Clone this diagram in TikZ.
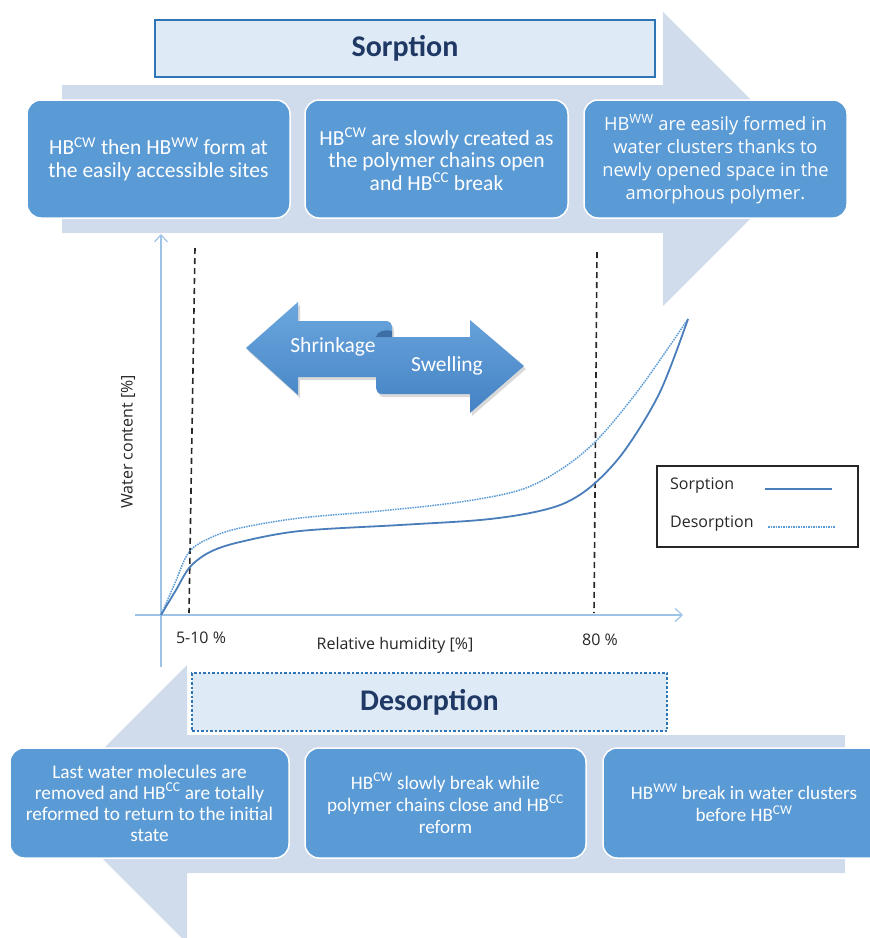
\documentclass[tikz,border=0pt]{standalone}
\usepackage{fontspec}
\setmainfont{Carlito}
\newfontfamily\chartfont{Open Sans}
\usepackage{tikz}
\usetikzlibrary{arrows.meta, shadows}

\definecolor{bandblue}{HTML}{D0DCEC}
\definecolor{boxblue}{HTML}{5B9BD5}
\definecolor{titlefill}{HTML}{DEEBF7}
\definecolor{titleline}{HTML}{2E75B6}
\definecolor{titletext}{HTML}{1F3864}
\definecolor{axisblue}{HTML}{9DC3E6}
\definecolor{curveblue}{HTML}{4A7EBB}
\definecolor{dotblue}{HTML}{5B9BD5}
\definecolor{charttext}{HTML}{262626}
\definecolor{arrowtop}{HTML}{6BA7DE}
\definecolor{arrowbottom}{HTML}{4482C4}
\definecolor{arrowfold}{HTML}{3D6FA6}

\begin{document}
\begin{tikzpicture}[x=1pt, y=-1pt]
    % Styles
    \tikzstyle{stage} = [rectangle, rounded corners=14pt, fill=boxblue, draw=white, line width=1.5pt, align=center, text=white, inner sep=0pt, font=\fontsize{21.5}{22.5}\selectfont]
    \tikzstyle{phase} = [rectangle, fill=titlefill, minimum height=57pt, text=titletext, font=\fontsize{30}{34}\selectfont\bfseries]
    \tikzstyle{band} = [fill=bandblue, draw=none]
    \tikzstyle{chartaxis} = [draw=axisblue, line width=1.2pt, -{Straight Barb[length=7pt, width=13pt]}]
    \tikzstyle{limit} = [draw=black!85, line width=1.6pt, dash pattern=on 6pt off 4pt]
    \tikzstyle{chart} = [text=charttext, inner sep=0pt, font=\chartfont\fontsize{16}{19}\selectfont]
    \tikzstyle{sorp} = [draw=curveblue, line width=1.8pt]
    \tikzstyle{desorp} = [draw=dotblue, line width=1.5pt, dash pattern=on 1.5pt off 1pt]
    \tikzstyle{swell} = [text=white, font=\fontsize{21.5}{24}\selectfont]

    \useasboundingbox (0,0) rectangle (870,938);

    % Big arrows
    \fill[band] (62,85) -- (663,85) -- (663,12) -- (810,159) -- (663,306) -- (663,233) -- (62,233) -- cycle;
    \fill[band] (845,735) -- (187,735) -- (187,665) -- (48,804) -- (187,943) -- (187,873) -- (845,873) -- cycle;

    % Titles
    \node[phase, draw=titleline, line width=2pt, minimum width=500pt] (sorptitle) at (405,48.5) {Sorption};
    \node[phase, draw=titleline, line width=2.5pt, dash pattern=on 2.5pt off 2pt, minimum width=475pt, minimum height=58pt] (desorptitle) at (429.5,702) {Desorption};

    % Sorption steps
    \node[stage, minimum width=263pt, minimum height=118pt] (sorpA) at (158.5,159) {HB\textsuperscript{CW} then HB\textsuperscript{WW} form at\\the easily accessible sites};
    \node[stage, minimum width=263pt, minimum height=118pt] (sorpB) at (436.5,159) {HB\textsuperscript{CW} are slowly created as\\the polymer chains open\\and HB\textsuperscript{CC} break};
    \node[stage, minimum width=263pt, minimum height=118pt, font=\chartfont\fontsize{18.3}{23}\selectfont] (sorpC) at (715.5,159) {HB\textsuperscript{WW} are easily formed in\\water clusters thanks to\\newly opened space in the\\amorphous polymer.};

    % Desorption steps
    \node[stage, minimum width=279pt, minimum height=110pt, font=\fontsize{19.3}{21}\selectfont] (desorpA) at (149.5,803) {Last water molecules are\\removed and HB\textsuperscript{CC} are totally\\reformed to return to the initial\\state};
    \node[stage, minimum width=281pt, minimum height=110pt, font=\fontsize{19.1}{22}\selectfont] (desorpB) at (445.5,803) {HB\textsuperscript{CW} slowly break while\\polymer chains close and HB\textsuperscript{CC}\\reform};
    \node[stage, minimum width=282pt, minimum height=110pt, font=\fontsize{19.1}{22}\selectfont] (desorpC) at (744,803) {HB\textsuperscript{WW} break in water clusters\\before HB\textsuperscript{CW}};

    % Axes
    \coordinate (origin) at (161,615);
    \coordinate (ybottom) at (161,667);
    \coordinate (ytop) at (161,234);
    \coordinate (xleft) at (135,615);
    \coordinate (xright) at (683,615);
    \draw[chartaxis] (ybottom) -- (ytop);
    \draw[chartaxis] (xleft) -- (xright);

    % Humidity limits
    \coordinate (lowtop) at (195,248);
    \coordinate (lowbottom) at (189,613);
    \coordinate (hightop) at (597,252);
    \coordinate (highbottom) at (594,613);
    \draw[limit] (lowtop) -- (lowbottom);
    \draw[limit] (hightop) -- (highbottom);

    \node[chart] (lowlabel) at (201,638) {5-10 \%};
    \node[chart] (highlabel) at (600,640) {80 \%};
    \node[chart] (xlabel) at (395,645) {Relative humidity [\%]};
    \node[chart, rotate=90] (ylabel) at (128,442) {Water content [\%]};

    % Isotherms
    \coordinate (curveend) at (688,319);
    \draw[desorp] plot[smooth, tension=0.55] coordinates {(161,615) (175,583) (189,552) (210,538) (240,528) (300,518) (380,511) (460,502) (520,490) (560,470) (597,440) (640,388) (688,319)};
    \draw[sorp] plot[smooth, tension=0.55] coordinates {(161,615) (176,590) (190,567) (210,552) (240,542) (300,531) (400,525) (480,520) (530,513) (565,503) (594,484) (625,450) (660,392) (688,319)};

    % Shrinkage / swelling arrow
    \path[top color=arrowtop, bottom color=arrowbottom, drop shadow={shadow xshift=2pt, shadow yshift=-3pt, opacity=0.3}]
        (246,348) -- (298,302) -- (298,321) -- (386,321) .. controls (390,321) and (392,324) .. (392,328) -- (392,337) -- (470,337) -- (470,320) -- (524,366) -- (470,413) -- (470,394) -- (382,394) .. controls (378,394) and (376,391) .. (376,388) -- (376,377) -- (298,377) -- (298,395) -- cycle;
    \fill[arrowfold] (376,337) .. controls (377,331) and (386,329) .. (392,331) -- (392,337) -- cycle;
    \node[swell] (shrinkage) at (333,347) {Shrinkage};
    \node[swell] (swelling) at (447,366) {Swelling};

    % Legend
    \node[draw=black!85, line width=1.5pt, minimum width=201pt, minimum height=81pt] (legend) at (757.5,506.5) {};
    \node[chart, anchor=west] (legsorp) at (670,486) {Sorption};
    \node[chart, anchor=west] (legdesorp) at (670,524) {Desorption};
    \coordinate (sorpstart) at (765,489);
    \coordinate (sorpend) at (832,489);
    \coordinate (desorpstart) at (768,527);
    \coordinate (desorpend) at (835,527);
    \draw[sorp] (sorpstart) -- (sorpend);
    \draw[desorp] (desorpstart) -- (desorpend);
\end{tikzpicture}
\end{document}
